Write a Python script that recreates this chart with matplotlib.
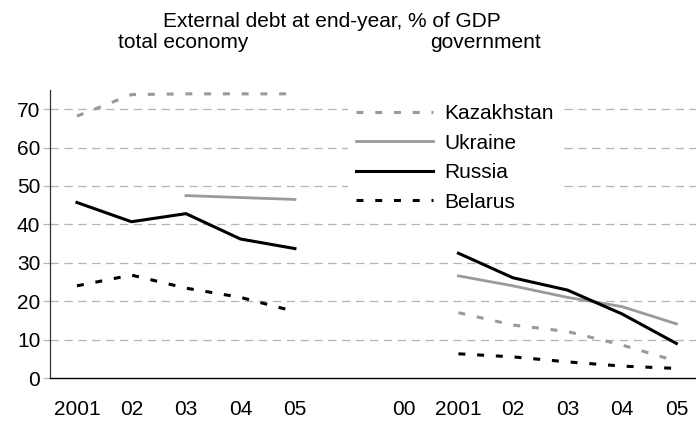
import numpy as np
import matplotlib.pyplot as plt

plt.rcParams['font.family'] = ['Liberation Sans', 'DejaVu Sans']
plt.rcParams['lines.scale_dashes'] = False

# x categories: total economy 2001-05, a gap, then government 00-05
tick_labels = ['2001', '02', '03', '04', '05', '', '00', '2001', '02', '03', '04', '05']
x_total = np.arange(0, 5)
x_gov = np.arange(6, 12)

# external debt, % of GDP - total economy
kaz_total = [68.2, 73.8, 74.0, 74.0, 74.0]
ukr_total = [np.nan, np.nan, 47.5, 47.0, 46.5]
rus_total = [45.7, 40.7, 42.8, 36.2, 33.7]
bel_total = [24.0, 26.8, 23.4, 21.0, 17.3]

# external debt, % of GDP - government (no value for 00)
kaz_gov = [np.nan, 17.0, 13.8, 12.1, 8.6, 4.4]
ukr_gov = [np.nan, 26.6, 24.0, 21.0, 18.6, 14.1]
rus_gov = [np.nan, 32.5, 26.1, 22.9, 16.7, 9.0]
bel_gov = [np.nan, 6.3, 5.5, 4.2, 3.1, 2.5]

W, H = 696, 421
FS = 15
fig = plt.figure(figsize=(W / 100, H / 100), dpi=100)
ax = fig.add_axes([50 / W, 1 - 378 / H, 1 - 50 / W, (378 - 90) / H])

gray = '#9a9a9a'
dash = (0, (5, 8.5))
styles = {
    'Kazakhstan': dict(color=gray, lw=2.2, ls=dash),
    'Ukraine': dict(color=gray, lw=2.0, ls='-'),
    'Russia': dict(color='black', lw=2.2, ls='-'),
    'Belarus': dict(color='black', lw=2.2, ls=dash),
}

handles = []
for name, tot, gov in [('Kazakhstan', kaz_total, kaz_gov),
                       ('Ukraine', ukr_total, ukr_gov),
                       ('Russia', rus_total, rus_gov),
                       ('Belarus', bel_total, bel_gov)]:
    h, = ax.plot(x_total, tot, label=name, **styles[name])
    ax.plot(x_gov, gov, **styles[name])
    handles.append(h)

ax.set_xlim(-0.495, 11.36)
ax.set_ylim(0, 75)
ax.set_yticks(range(0, 71, 10))
ax.set_xticks(range(len(tick_labels)))
ax.set_xticklabels(tick_labels)

for y in range(10, 71, 10):
    ax.axhline(y, color='#b4b4b4', lw=0.9, ls=(0, (6, 4)), zorder=1)

for s in ['top', 'right']:
    ax.spines[s].set_visible(False)
ax.spines['left'].set_color('#333333')
ax.spines['left'].set_linewidth(0.9)
ax.spines['bottom'].set_linewidth(1.0)

ax.tick_params(axis='x', length=0, pad=16, labelsize=FS)
ax.tick_params(axis='y', length=5, color='#b4b4b4', width=0.9, pad=2, labelsize=FS)

leg = ax.legend(handles=handles, loc='upper left',
                bbox_to_anchor=(348 / W, 1 - 96 / H), bbox_transform=fig.transFigure,
                fontsize=FS, frameon=True, fancybox=False, framealpha=1,
                edgecolor='white', borderaxespad=0, borderpad=0.4,
                handlelength=3.7, handletextpad=0.53, labelspacing=0.5)

fig.text(332 / W, 1 - 27 / H, 'External debt at end-year, % of GDP',
         ha='center', va='baseline', fontsize=FS)
fig.text(183 / W, 1 - 48 / H, 'total economy', ha='center', va='baseline', fontsize=FS)
fig.text(485 / W, 1 - 48 / H, 'government', ha='center', va='baseline', fontsize=FS)

fig.savefig('out.png', dpi=100)
